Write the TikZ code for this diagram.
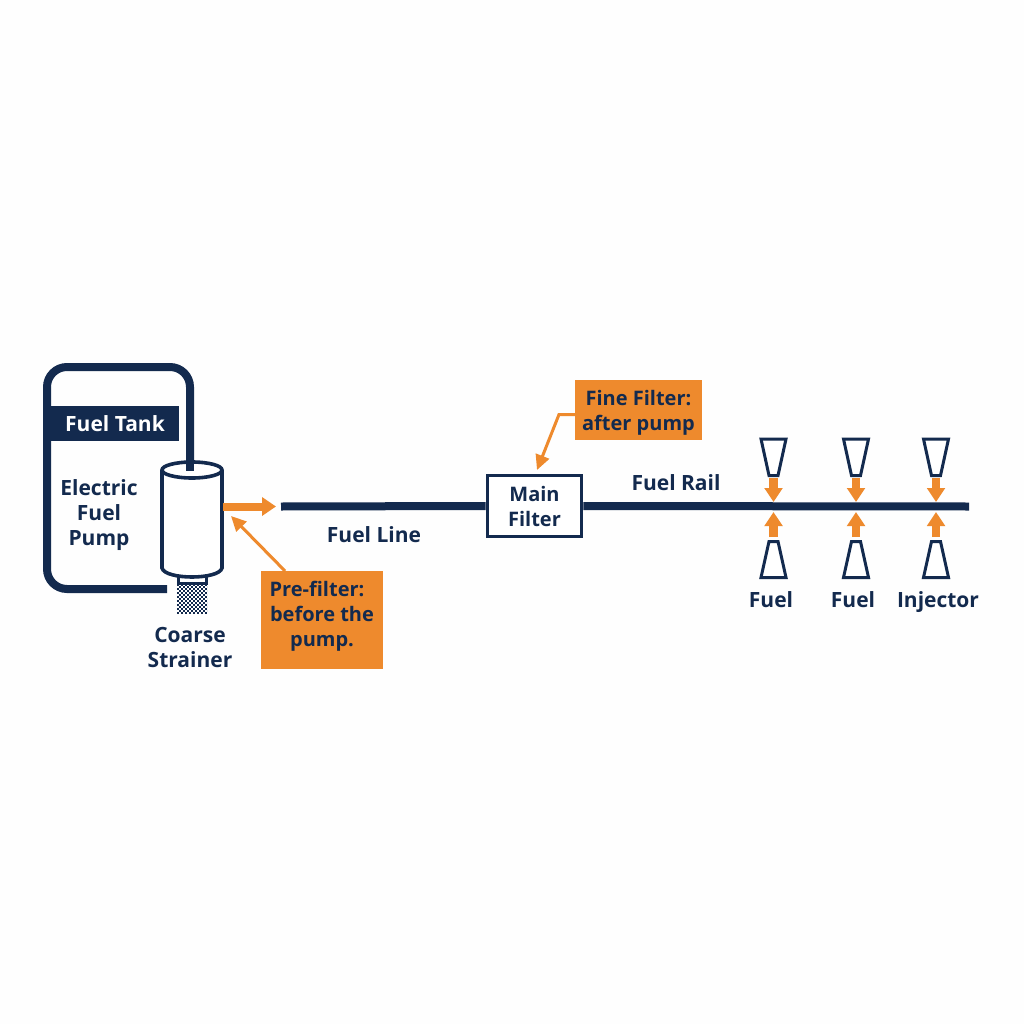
\documentclass[tikz,border=0pt]{standalone}
\usepackage{fontspec}
\setmainfont{Open Sans}
\usetikzlibrary{arrows.meta,calc}
\definecolor{navy}{HTML}{132A4E}
\definecolor{orng}{HTML}{EE8A2D}
\definecolor{bgc}{HTML}{FEFEFE}
\tikzset{
  pipe/.style={draw=navy,line width=8pt},
  outl/.style={draw=navy,line width=3.6pt,fill=white,line join=miter},
  lbl/.style={text=navy,font=\fontsize{21}{25}\selectfont\bfseries,align=center,inner sep=0pt},
  boxtext/.style={text=navy,font=\fontsize{20}{25}\selectfont\bfseries,align=center,inner sep=0pt},
  callout/.style={fill=orng,inner sep=0pt},
  thickarrow/.style={draw=orng,line width=8pt,-{Triangle[length=14pt,width=18pt]}},
  thinarrow/.style={draw=orng,line width=3pt,-{Triangle[length=15pt,width=14pt]}},
}
\begin{document}
\begin{tikzpicture}[x=1pt,y=-1pt]
\useasboundingbox (0,0) rectangle (1024,1024);
\fill[bgc] (0,0) rectangle (1024,1024);
% tank
\coordinate (tankend) at (167,589);
\coordinate (cyltop) at (190,472);
\draw[pipe,rounded corners=20pt] (tankend) -- (47,589) -- (47,367) -- (190,367) -- (cyltop);
\node[fill=navy,minimum width=128pt,minimum height=35pt,inner sep=0pt,text=white,font=\fontsize{21}{25}\selectfont\bfseries] (tanklabel) at (115,423.5) {Fuel Tank};
\node[lbl] (pump) at (99,515) {Electric\\Fuel\\Pump};
% strainer
\draw[draw=navy,line width=3pt,fill=white] (178,572) rectangle (206,583);
\begin{scope}
\clip (177,584) rectangle (207,613);
\foreach \i in {0,...,8}{
  \foreach \j in {0,...,8}{
    \fill[navy] ({177+4*\i},{584+4*\j}) rectangle +(2.2,2.2);
    \fill[navy] ({179+4*\i},{586+4*\j}) rectangle +(2.2,2.2);
  }
}
\end{scope}
% cylinder
\draw[outl] (162,470) -- (162,568) .. controls (165,580) and (219,580) .. (222,568) -- (222,470);
\draw[outl] (192,470) ellipse[x radius=30,y radius=8];
\draw[navy,line width=8pt] (190,460) -- (190,471);
\node[lbl] (strainer) at (190,647) {Coarse\\Strainer};
% fuel line
\coordinate (linestart) at (281,506.5);
\coordinate (railend) at (969,506.5);
\node[draw=navy,line width=3.6pt,fill=white,minimum width=94pt,minimum height=61pt,inner sep=0pt] (mainfilter) at (534.5,506) {};
\draw[pipe] (linestart) -- (mainfilter.west);
\draw[pipe] (mainfilter.east) -- (railend);
\node[boxtext] (maintext) at (mainfilter.center) {Main\\Filter};
\node[lbl] (fuelline) at (374,535) {Fuel Line};
\node[lbl] (fuelrail) at (676,483) {Fuel Rail};
% arrows from pump
\coordinate (pumpout) at (223,506.5);
\coordinate (pumpoutend) at (276,506.5);
\draw[thickarrow] (pumpout) -- (pumpoutend);
% callouts
\node[callout,minimum width=122pt,minimum height=98pt] (prefilter) at (322,620) {};
\node[boxtext] (pretext) at (322,616.5) {\hspace*{-10pt}Pre-filter:\\before the\\pump.};
\coordinate (prefrom) at (285,571);
\coordinate (preto) at (231,516);
\draw[thinarrow] (prefrom) -- (preto);
\node[callout,minimum width=127pt,minimum height=60pt] (finefilter) at (638.5,410) {};
\node[boxtext] (finetext) at (638.5,412.5) {Fine Filter:\\after pump};
\coordinate (finefrom) at (575,414.5);
\coordinate (fineto) at (537,470);
\draw[thinarrow] (finefrom) -- (559,414.5) -- (fineto);
% injectors
\foreach \n/\x in {a/773.5,b/856,c/936}{
  \draw[outl,line width=3pt] (\x-12.5,439) -- (\x+12.5,439) -- (\x+4.5,475.5) -- (\x-4.5,475.5) -- cycle;
  \draw[outl,line width=3pt] (\x-4.5,541.5) -- (\x+4.5,541.5) -- (\x+12.5,577.5) -- (\x-12.5,577.5) -- cycle;
  \coordinate (\n t0) at (\x,478);
  \coordinate (\n t1) at (\x,502);
  \coordinate (\n b0) at (\x,537);
  \coordinate (\n b1) at (\x,512);
  \draw[draw=orng,line width=8.5pt,-{Triangle[length=14pt,width=17.5pt]}] (\n t0) -- (\n t1);
  \draw[draw=orng,line width=8.5pt,-{Triangle[length=14pt,width=17.5pt]}] (\n b0) -- (\n b1);
}
\node[lbl,anchor=base] (f1) at (771,607) {Fuel};
\node[lbl,anchor=base] (f2) at (853,607) {Fuel};
\node[lbl,anchor=base] (inj) at (938,607) {Injector};
\end{tikzpicture}
\end{document}
